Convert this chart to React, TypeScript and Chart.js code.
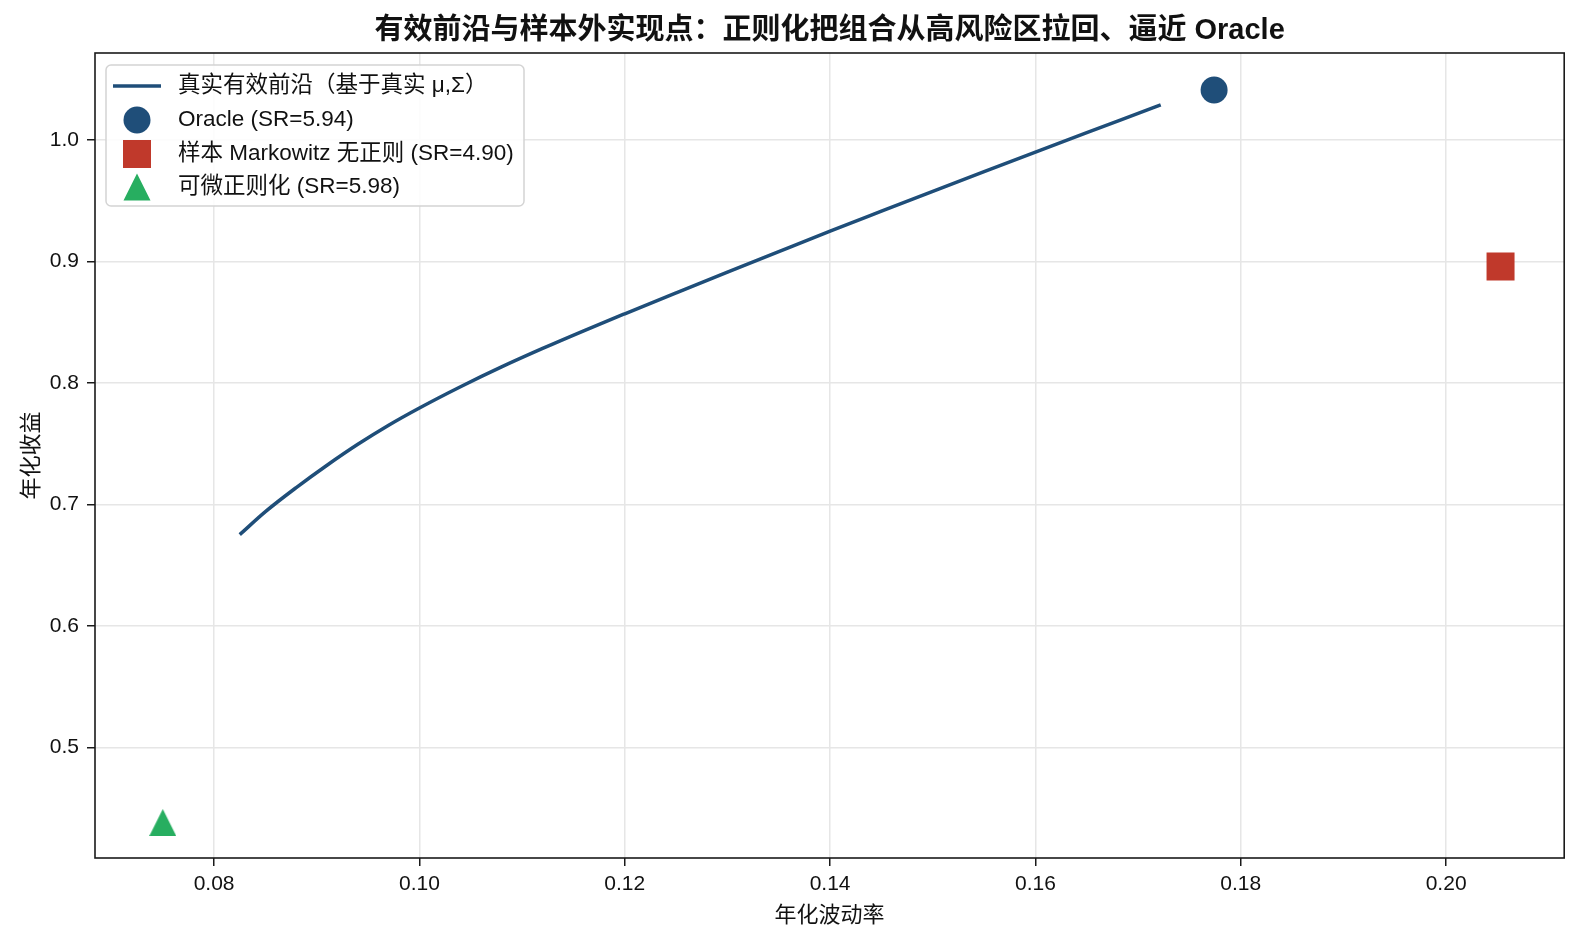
import { useEffect, useRef } from 'react';
import { Chart, registerables } from 'chart.js';

Chart.register(...registerables);

// frontier curve (annualised vol -> annualised return)
const frontierVol = [0.0825, 0.0850, 0.0880, 0.0910, 0.0940, 0.0970, 0.1000, 0.1040, 0.1080, 0.1120, 0.1160, 0.1200, 0.1250, 0.1300, 0.1350, 0.1400, 0.1450, 0.1500, 0.1550, 0.1600, 0.1650, 0.1700, 0.1722];
const frontierRet = [0.6753, 0.6942, 0.7140, 0.7324, 0.7496, 0.7653, 0.7795, 0.7970, 0.8133, 0.8285, 0.8430, 0.8570, 0.8742, 0.8913, 0.9082, 0.9250, 0.9414, 0.9577, 0.9739, 0.9900, 1.0060, 1.0219, 1.0289];

// out-of-sample realised points
const oraclePoint = [0.1774, 1.0412];
const samplePoint = [0.2053, 0.8959];
const regPoint = [0.0750, 0.4384];

const seriesLabels = [
  '真实有效前沿（基于真实 μ,Σ）',
  'Oracle (SR=5.94)',
  '样本 Markowitz 无正则 (SR=4.90)',
  '可微正则化 (SR=5.98)',
];

const xTickValues = [0.08, 0.10, 0.12, 0.14, 0.16, 0.18, 0.20];
const yTickValues = [0.5, 0.6, 0.7, 0.8, 0.9, 1.0];

const NAVY = '#1f4e79';
const RED = '#c0392b';
const GREEN = '#27ae60';
const FONT = "'Liberation Sans', 'Noto Sans CJK SC', sans-serif";

function drawTriangle(ctx: CanvasRenderingContext2D, cx: number, cy: number, s: number) {
  ctx.beginPath();
  ctx.moveTo(cx, cy - s / 2);
  ctx.lineTo(cx + s / 2, cy + s / 2);
  ctx.lineTo(cx - s / 2, cy + s / 2);
  ctx.closePath();
  ctx.fill();
}

function makeTriangle(size: number) {
  const c = document.createElement('canvas');
  c.width = size;
  c.height = size;
  const g = c.getContext('2d')!;
  g.fillStyle = GREEN;
  drawTriangle(g, size / 2, size / 2, size);
  return c;
}

const decorPlugin = {
  id: 'decor',
  afterDatasetsDraw(chart: Chart) {
    const { ctx, chartArea: a } = chart;
    ctx.save();
    ctx.strokeStyle = '#1a1a1a';
    ctx.lineWidth = 1.6;
    ctx.strokeRect(a.left, a.top, a.right - a.left, a.bottom - a.top);
    ctx.restore();
  },
  afterDraw(chart: Chart) {
    const { ctx, chartArea: a } = chart;
    ctx.save();
    ctx.fillStyle = '#111';
    ctx.textAlign = 'center';
    ctx.textBaseline = 'middle';
    ctx.font = `bold 29px ${FONT}`;
    ctx.fillText('有效前沿与样本外实现点：正则化把组合从高风险区拉回、逼近 Oracle', (a.left + a.right) / 2, 31);

    ctx.font = `22px ${FONT}`;
    ctx.fillText('年化波动率', (a.left + a.right) / 2, 916);
    ctx.save();
    ctx.translate(32, (a.top + a.bottom) / 2);
    ctx.rotate(-Math.PI / 2);
    ctx.fillText('年化收益', 0, 0);
    ctx.restore();

    // legend box
    const bx = 106, by = 65, bw = 418, bh = 141;
    ctx.beginPath();
    ctx.roundRect(bx, by, bw, bh, 5);
    ctx.fillStyle = 'rgba(255,255,255,0.85)';
    ctx.fill();
    ctx.strokeStyle = '#d4d4d4';
    ctx.lineWidth = 1.5;
    ctx.stroke();

    const rows = [86, 120, 154, 187];
    const mx = 137;
    ctx.strokeStyle = NAVY;
    ctx.lineWidth = 3.5;
    ctx.beginPath();
    ctx.moveTo(113, rows[0]);
    ctx.lineTo(161, rows[0]);
    ctx.stroke();

    ctx.fillStyle = NAVY;
    ctx.beginPath();
    ctx.arc(mx, rows[1], 13.5, 0, Math.PI * 2);
    ctx.fill();

    ctx.fillStyle = RED;
    ctx.fillRect(mx - 14, rows[2] - 14, 28, 28);

    ctx.fillStyle = GREEN;
    drawTriangle(ctx, mx, rows[3], 27);

    ctx.fillStyle = '#111';
    ctx.textAlign = 'left';
    ctx.font = `22.5px ${FONT}`;
    seriesLabels.forEach((t, i) => ctx.fillText(t, 178, rows[i]));
    ctx.restore();
  },
};

export default function App() {
  const canvasRef = useRef<HTMLCanvasElement>(null);

  useEffect(() => {
    if (!canvasRef.current) return;
    const tri = makeTriangle(27);

    const chart = new Chart(canvasRef.current, {
      type: 'scatter',
      data: {
        datasets: [
          {
            type: 'line',
            label: seriesLabels[0],
            data: frontierVol.map((v, i) => ({ x: v, y: frontierRet[i] })),
            borderColor: NAVY,
            borderWidth: 3.5,
            pointRadius: 0,
            fill: false,
            cubicInterpolationMode: 'monotone',
          },
          {
            label: seriesLabels[1],
            data: [{ x: oraclePoint[0], y: oraclePoint[1] }],
            backgroundColor: NAVY,
            borderWidth: 0,
            pointStyle: 'circle',
            pointRadius: 13.5,
          },
          {
            label: seriesLabels[2],
            data: [{ x: samplePoint[0], y: samplePoint[1] }],
            backgroundColor: RED,
            borderWidth: 0,
            pointStyle: 'rect',
            pointRadius: 19.8,
          },
          {
            label: seriesLabels[3],
            data: [{ x: regPoint[0], y: regPoint[1] }],
            backgroundColor: GREEN,
            borderWidth: 0,
            pointStyle: tri,
            pointRadius: 13.5,
          },
        ],
      },
      options: {
        animation: false,
        responsive: true,
        maintainAspectRatio: false,
        layout: { padding: { top: 53, right: 16, left: 0, bottom: 0 } },
        plugins: {
          legend: { display: false },
          tooltip: { enabled: false },
          title: { display: false },
        },
        scales: {
          x: {
            type: 'linear',
            min: 0.0684,
            max: 0.2115,
            afterBuildTicks: (s: any) => { s.ticks = xTickValues.map(value => ({ value })); },
            afterFit: (s: any) => { s.height = 85; },
            border: { display: false },
            grid: { color: '#e6e6e6', lineWidth: 1.5, tickColor: '#1a1a1a', tickLength: 8, tickWidth: 1.5 },
            ticks: {
              color: '#111',
              font: { family: FONT, size: 21 },
              padding: 6,
              maxRotation: 0,
              callback: (v: any) => Number(v).toFixed(2),
            },
          },
          y: {
            type: 'linear',
            min: 0.4092,
            max: 1.0716,
            afterBuildTicks: (s: any) => { s.ticks = yTickValues.map(value => ({ value })); },
            afterFit: (s: any) => { s.width = 95; },
            border: { display: false },
            grid: { color: '#e6e6e6', lineWidth: 1.5, tickColor: '#1a1a1a', tickLength: 8, tickWidth: 1.5 },
            ticks: {
              color: '#111',
              font: { family: FONT, size: 21 },
              padding: 8,
              callback: (v: any) => Number(v).toFixed(1),
            },
          },
        },
      },
      plugins: [decorPlugin],
    });

    return () => chart.destroy();
  }, []);

  return (
    <div style={{ position: 'fixed', left: 0, top: 0, width: 1584, height: 943, background: '#fff' }}>
      <canvas ref={canvasRef} />
    </div>
  );
}
